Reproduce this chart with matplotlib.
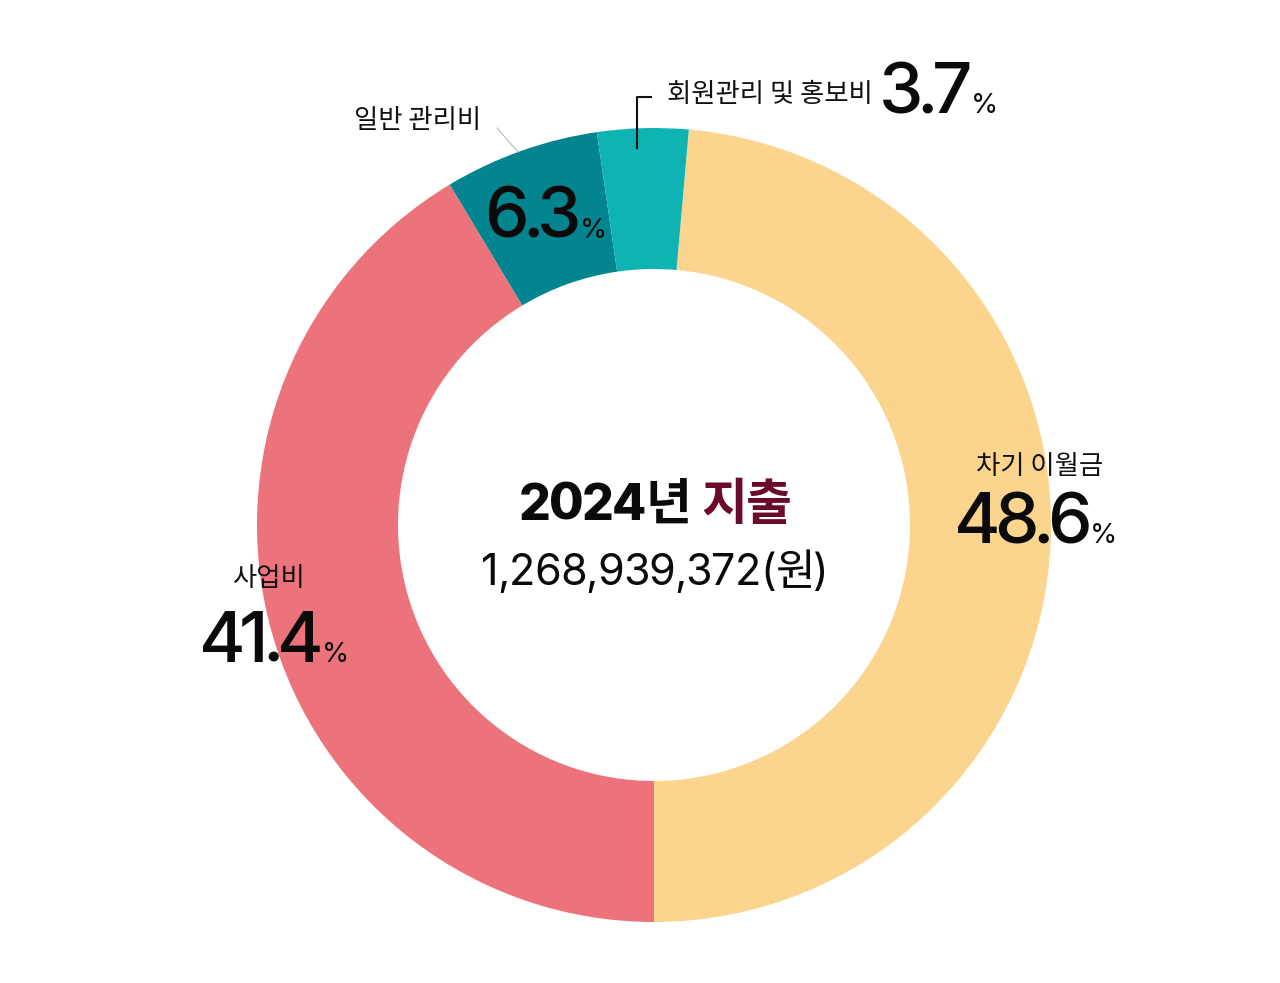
import matplotlib
matplotlib.use("Agg")
import matplotlib.pyplot as plt

# ---- data ----
categories = ["차기 이월금", "사업비", "일반 관리비", "회원관리 및 홍보비"]
shares = [48.6, 41.4, 6.3, 3.7]
pct_labels = ["48.6", "41.4", "6.3", "3.7"]
colors = ["#FBD58E", "#EC737B", "#02858E", "#10B3B4"]
title_year = "2024년"
title_word = "지출"
total_text = "1,268,939,372(원)"

W, H = 1280, 983
fig = plt.figure(figsize=(W / 100, H / 100), dpi=100)
ax = fig.add_axes([0, 0, 1, 1])

def Y(py):
    return H - py

FAM = ["Inter", "Noto Sans CJK KR", "DejaVu Sans"]
KFAM = ["Noto Sans CJK KR", "DejaVu Sans"]

cx, cy, R, r_in = 654, 525, 397, 256
ax.pie(shares, colors=colors, startangle=shares[0] * 3.6 - 90,
       counterclock=False, center=(cx, Y(cy)), radius=R,
       wedgeprops=dict(width=R - r_in, linewidth=0), frame=True)
ax.set_xlim(0, W)
ax.set_ylim(0, H)
ax.set_aspect("equal")
ax.axis("off")

renderer = fig.canvas.get_renderer()

def tracked(x, py, s, size, weight, family, color, track):
    """Draw string char by char with tracking (px); return right edge x."""
    for ch in s:
        t = ax.text(x, Y(py), ch, ha="left", va="baseline", fontsize=size,
                    fontweight=weight, family=family, color=color)
        bb = t.get_window_extent(renderer=renderer)
        x = x + bb.width + track
    return x - track

def tracked_width(s, size, weight, family, track):
    w = 0
    for ch in s:
        t = ax.text(0, 0, ch, fontsize=size, fontweight=weight, family=family)
        w += t.get_window_extent(renderer=renderer).width + track
        t.remove()
    return w - track

# centre text
tw1 = tracked_width(title_year, 36, 800, FAM, -1.5)
tw2 = tracked_width(title_word, 36, 800, KFAM, -1.5)
gap = 10
x0 = 655 - (tw1 + gap + tw2) / 2
xe = tracked(x0, 520, title_year, 36, 800, FAM, "#0A0A0A", -1.5)
tracked(xe + gap, 520, title_word, 36, 800, KFAM, "#6B0A2A", -1.5)

nw = tracked_width(total_text, 31, "normal", FAM, -1.0)
tracked(655 - nw / 2, 585, total_text, 31, "normal", FAM, "#0A0A0A", -1.0)

def place(name, pct, name_xy, pct_x, pct_base, name_ha="center"):
    ax.text(name_xy[0], Y(name_xy[1]), name, ha=name_ha, va="center",
            fontsize=19, family=KFAM, color="#111111")
    xe = tracked(pct_x, pct_base, pct, 51, 500, FAM, "#0A0A0A", -6.5)
    ax.text(xe - 2, Y(pct_base), "%", ha="left", va="baseline",
            fontsize=20, family=FAM, color="#0A0A0A")

place(categories[0], pct_labels[0], (1040, 466), 954, 543)
place(categories[1], pct_labels[1], (268, 578), 199, 662)
place(categories[2], pct_labels[2], (418, 120), 484, 238)
place(categories[3], pct_labels[3], (667, 95), 879, 113, name_ha="left")

# leader lines
ax.plot([497, 518], [Y(128), Y(152)], color="#BBBBBB", lw=0.8)
ax.plot([637, 637, 651], [Y(148), Y(97), Y(97)], color="#111111", lw=1.5)

fig.savefig("out.png", dpi=100, facecolor="white")
